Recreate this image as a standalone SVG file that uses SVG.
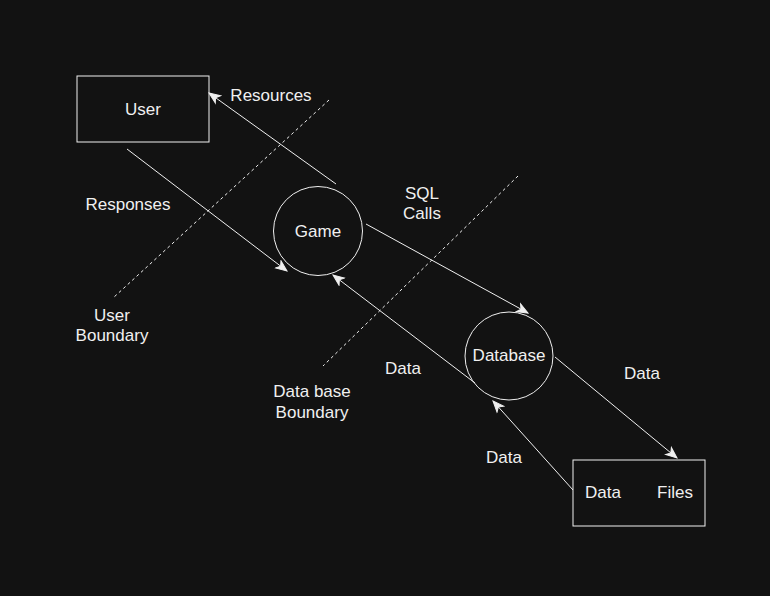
<svg xmlns="http://www.w3.org/2000/svg" width="770" height="596" viewBox="0 0 770 596">
<style>
  .shape { fill: #121212; stroke: #f0f0f0; stroke-width: 1; }
  .edge { fill: none; stroke: #f0f0f0; stroke-width: 1; }
  .bound { fill: none; stroke: #f0f0f0; stroke-width: 1; stroke-dasharray: 3 3; }
  text { font-family: "Liberation Sans", Arial, sans-serif; font-size: 17px; fill: #f0f0f0; text-anchor: middle; }
</style>
<defs>
  <marker id="arrow" markerUnits="userSpaceOnUse" markerWidth="14" markerHeight="12" refX="11" refY="0" viewBox="-1 -6 14 12" orient="auto">
    <path d="M0,-4.5 L11,0 L0,4.5 L3,0 Z" fill="#f0f0f0" stroke="#f0f0f0" stroke-width="1"/>
  </marker>
</defs>
<rect width="770" height="596" fill="#121212"/>

<g id="boundaries">
  <line class="bound" x1="329" y1="100" x2="113" y2="298"/>
  <line class="bound" x1="518" y1="176" x2="323" y2="366"/>
  <text x="112" y="321">User</text>
  <text x="112" y="341">Boundary</text>
  <text x="312" y="397">Data base</text>
  <text x="312" y="418">Boundary</text>
</g>

<g id="user">
  <rect class="shape" x="77" y="76" width="132" height="66"/>
  <text x="143" y="115">User</text>
</g>

<g id="game">
  <circle class="shape" cx="318" cy="231" r="44.5"/>
  <text x="318" y="237">Game</text>
</g>

<g id="database">
  <circle class="shape" cx="509" cy="356" r="44"/>
  <text x="509" y="361">Database</text>
</g>

<g id="datafiles">
  <rect class="shape" x="573" y="460" width="132" height="66"/>
  <text x="603" y="498">Data</text>
  <text x="675" y="498">Files</text>
</g>

<g id="connectors">
  <line class="edge" x1="336" y1="184" x2="209" y2="93" marker-end="url(#arrow)"/>
  <line class="edge" x1="127" y1="149" x2="287" y2="271" marker-end="url(#arrow)"/>
  <line class="edge" x1="366" y1="224" x2="528" y2="313" marker-end="url(#arrow)"/>
  <line class="edge" x1="475" y1="383" x2="333" y2="275" marker-end="url(#arrow)"/>
  <line class="edge" x1="555" y1="357" x2="677" y2="458" marker-end="url(#arrow)"/>
  <line class="edge" x1="573" y1="490" x2="493" y2="401" marker-end="url(#arrow)"/>
  <text x="271" y="101">Resources</text>
  <text x="128" y="210">Responses</text>
  <text x="422" y="199">SQL</text>
  <text x="422" y="219">Calls</text>
  <text x="403" y="374">Data</text>
  <text x="642" y="379">Data</text>
  <text x="504" y="463">Data</text>
</g>
</svg>
